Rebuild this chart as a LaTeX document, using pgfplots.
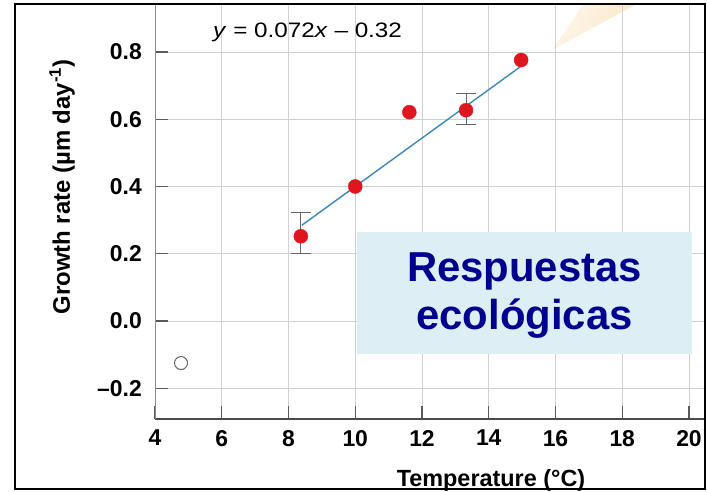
\documentclass[border=0pt]{standalone}
\usepackage{pgfplots}
\pgfplotsset{compat=1.18}
\usepackage{graphicx}
\usepackage{fontspec}
\setmainfont{Liberation Sans}

\definecolor{gridgray}{HTML}{D0D0D0}
\definecolor{fitblue}{HTML}{3C88B5}
\definecolor{dotred}{HTML}{E0161E}
\definecolor{boxblue}{HTML}{DDEEF4}
\definecolor{navy}{HTML}{00008F}
\definecolor{pencil}{HTML}{FAE7C6}

\begin{document}
\begin{tikzpicture}[x=1bp,y=1bp]
\useasboundingbox (0,0) rectangle (708,492);

% pencil tip poking into the top right of the plot
\shade[left color=pencil!35, right color=pencil, shading angle=60] (552,442) -- (583,487) -- (635,487) -- cycle;

\begin{axis}[
  at={(155bp,73bp)}, anchor=south west,
  scale only axis, width=550bp, height=414bp,
  xmin=4, xmax=20.48, ymin=-0.2914, ymax=0.9398,
  axis x line=bottom, axis y line=left, axis line style={-},
  x axis line style={draw=black!70, line width=1.3bp},
  y axis line style={draw=black!45, line width=1bp},
  tick align=inside, major tick length=13bp,
  tick style={draw=black!65, line width=1.3bp},
  xtick={4,6,...,20},
  ytick={-0.2,0,0.2,0.4,0.6,0.8},
  yticklabels={--0.2,0.0,0.2,0.4,0.6,0.8},
  grid=major, grid style={draw=gridgray, line width=0.9bp},
  xticklabel style={font=\fontsize{23}{26}\selectfont\bfseries, inner sep=0pt, yshift=-11bp},
  yticklabel style={font=\fontsize{23}{26}\selectfont\bfseries, inner sep=0pt, xshift=-13bp},
  /pgf/number format/assume math mode=true,
]
% fitted regression line y = 0.072x - 0.32
\addplot[fitblue, line width=1.4bp, no marks] coordinates {(8.4,0.2848) (15,0.76)};

% standard errors
\addplot[draw=none, mark=none,
  error bars/.cd, y dir=both, y explicit, error mark=|,
  error bar style={draw=black!60, line width=1bp},
  error mark options={draw=black!60, line width=1bp, mark size=10bp}]
  table[x=x, y=y, y error plus=ep, y error minus=em] {
x     y     ep    em
8.37  0.252 0.072 0.052
13.32 0.627 0.050 0.042
};

% measured growth rates
\addplot[only marks, mark=*, mark size=7bp, color=dotred, mark options={draw=dotred, fill=dotred}]
  coordinates {(8.37,0.252) (10,0.40) (11.62,0.621) (13.32,0.627) (14.97,0.776)};

% point excluded from the fit
\addplot[only marks, mark=*, mark size=6.5bp, mark options={draw=black!60, fill=white, line width=1bp}]
  coordinates {(4.78,-0.125)};
\end{axis}

% overlay caption box
\fill[boxblue] (357,138) rectangle (692,260);
\node[anchor=base, inner sep=0, text=navy, font=\fontsize{42}{48}\selectfont\bfseries] at (524.5,210) {Respuestas};
\node[anchor=base, inner sep=0, text=navy, font=\fontsize{42}{48}\selectfont\bfseries] at (524.5,162) {ecológicas};

% regression equation
\node[anchor=base west, inner sep=0, font=\fontsize{21}{24}\selectfont] at (213,454) {\scalebox{1.16}[1]{\textit{y} = 0.072\textit{x} -- 0.32}};

% axis titles
\node[anchor=base, inner sep=0, font=\fontsize{23.5}{26}\selectfont\bfseries] at (491,5) {Temperature (°C)};
\node[rotate=90, inner sep=0, font=\fontsize{24}{27}\selectfont\bfseries] at (62,305) {Growth rate (µm day\textsuperscript{-1})};

% outer frame
\draw[line width=2.2bp] (15,3) rectangle (705,488);
\end{tikzpicture}
\end{document}
